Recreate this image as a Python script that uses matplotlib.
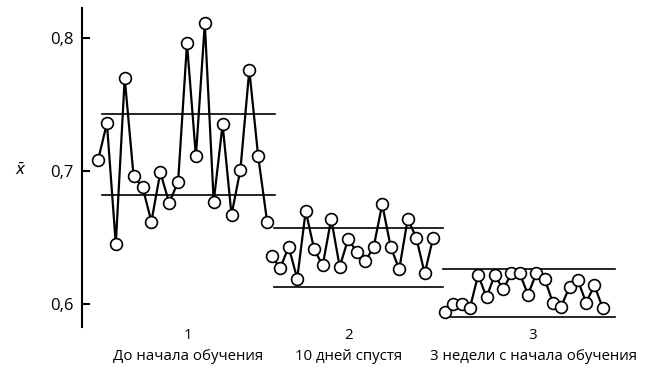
import numpy as np
import matplotlib
matplotlib.use('Agg')
import matplotlib.pyplot as plt

plt.rcParams['font.family'] = ['Open Sans', 'DejaVu Sans']

# Средние значения выборок (x-bar) для трёх периодов
xbar_1 = [0.708, 0.736, 0.645, 0.770, 0.696, 0.688, 0.662, 0.699, 0.676, 0.692,
          0.796, 0.711, 0.811, 0.677, 0.735, 0.667, 0.701, 0.776, 0.711, 0.662]
xbar_2 = [0.636, 0.627, 0.643, 0.619, 0.670, 0.641, 0.629, 0.664, 0.628, 0.649,
          0.639, 0.632, 0.643, 0.675, 0.643, 0.626, 0.664, 0.650, 0.623, 0.650]
xbar_3 = [0.594, 0.600, 0.600, 0.597, 0.622, 0.605, 0.622, 0.611, 0.623, 0.623,
          0.607, 0.623, 0.619, 0.601, 0.598, 0.613, 0.618, 0.601, 0.614, 0.597]

ucl = [0.743, 0.657, 0.626]  # верхние границы
lcl = [0.682, 0.613, 0.590]  # нижние границы

period_nums = ['1', '2', '3']
period_names = ['До начала обучения', '10 дней спустя', '3 недели с начала обучения']

yticks = [0.6, 0.7, 0.8]
ytick_labels = ['0,6', '0,7', '0,8']

# --- layout (horizontal positions of each segment)
seg_start = [98, 271.7, 445]
seg_step = [8.9, 8.5, 8.3]
line_span = [(102, 275), (274, 443), (443, 615)]
label_x = [188, 349, 533]

fig = plt.figure(figsize=(6.52, 3.84), dpi=100)
ax = fig.add_axes([82 / 652, 57 / 384, 558 / 652, 319 / 384])

for i, ys in enumerate([xbar_1, xbar_2, xbar_3]):
    xs = seg_start[i] + seg_step[i] * np.arange(len(ys))
    x0, x1 = line_span[i]
    ax.plot([x0, x1], [ucl[i], ucl[i]], color='black', lw=1.2, zorder=1)
    ax.plot([x0, x1], [lcl[i], lcl[i]], color='black', lw=1.2, zorder=1)
    ax.plot(xs, ys, '-o', color='black', lw=1.6, ms=8.5, mfc='white',
            mec='black', mew=1.2, zorder=2)

    ax.text(label_x[i], -0.028, period_nums[i], transform=ax.get_xaxis_transform(),
            ha='center', va='center', fontsize=10.8)
    ax.text(label_x[i], -0.094, period_names[i], transform=ax.get_xaxis_transform(),
            ha='center', va='center', fontsize=10.8)

ax.set_xlim(82, 640)
ax.set_ylim(0.5827, 0.8226)
ax.set_yticks(yticks)
ax.set_yticklabels(ytick_labels, fontsize=12)
ax.tick_params(axis='y', direction='in', length=6, width=1.5, pad=6)
ax.set_xticks([])

for s in ['top', 'right', 'bottom']:
    ax.spines[s].set_visible(False)
ax.spines['left'].set_linewidth(1.5)

fig.text(21 / 652, 1 - 171 / 384, r'$\bar{x}$', ha='center', va='center', fontsize=11)

plt.savefig('out.png', dpi=100)
plt.close()
